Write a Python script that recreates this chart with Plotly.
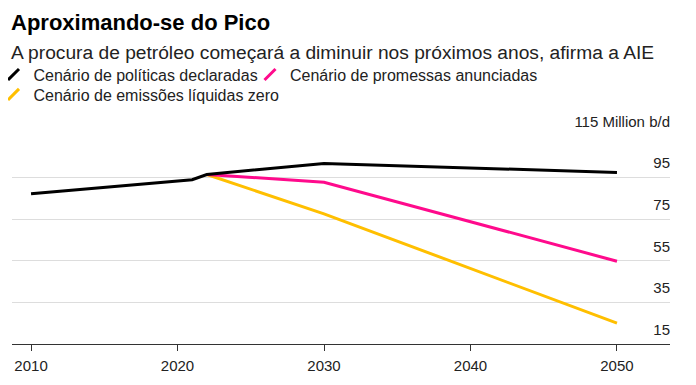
import plotly.graph_objects as go

# ---- data ----
years_hist = [2010, 2021, 2022]
demand_hist = [87.2, 94.0, 96.5]

years_proj = [2022, 2030, 2050]
steps = [96.5, 101.8, 97.5]      # Cenário de políticas declaradas
aps = [96.5, 92.8, 54.8]         # Cenário de promessas anunciadas
nze = [96.5, 77.6, 25.0]         # Cenário de emissões líquidas zero

series_names = ["Cenário de políticas declaradas",
                "Cenário de promessas anunciadas",
                "Cenário de emissões líquidas zero"]
series_colors = ["#000000", "#ff0a8c", "#ffbf00"]

y_tickvals = [15, 35, 55, 75, 95, 115]
y_ticktext = ["15", "35", "55", "75", "95", "115 Million b/d"]
x_tickvals = [2010, 2020, 2030, 2040, 2050]

FONT = "Liberation Sans, Arial, sans-serif"

fig = go.Figure()

# projection lines (drawn bottom-up so black on top)
for name, vals, col in [(series_names[2], nze, series_colors[2]),
                        (series_names[1], aps, series_colors[1])]:
    fig.add_trace(go.Scatter(x=years_proj, y=vals, mode="lines",
                             line=dict(color=col, width=3),
                             showlegend=False, hoverinfo="skip"))
fig.add_trace(go.Scatter(x=years_hist + years_proj[1:], y=demand_hist + steps[1:],
                         mode="lines", line=dict(color=series_colors[0], width=3),
                         showlegend=False, hoverinfo="skip"))

# legend entries with slash icons, one small legend each
legend_ids = ["legend", "legend2", "legend3"]
for name, col, lg in zip(series_names, series_colors, legend_ids):
    fig.add_trace(go.Scatter(x=[None], y=[None], mode="markers", name=name,
                             legend=lg,
                             marker=dict(symbol="line-ne", size=11,
                                         line=dict(color=col, width=3))))

PLOT_H = 336.3 - 127.7
PLOT_W = 662 - 4

legend_common = dict(orientation="h", xanchor="left", yanchor="top",
                     font=dict(size=16, color="#222"), itemwidth=30,
                     bgcolor="rgba(0,0,0,0)")

fig.update_layout(
    width=688, height=377,
    margin=dict(l=4, r=26, t=127.7, b=40.7, autoexpand=False),
    paper_bgcolor="white", plot_bgcolor="white",
    font=dict(family=FONT, color="#222"),
    showlegend=True,
    legend=dict(x=-18.5 / PLOT_W, y=1.377, **legend_common),
    legend2=dict(x=238 / PLOT_W, y=1.377, **legend_common),
    legend3=dict(x=-18.5 / PLOT_W, y=1.377 - 20 / PLOT_H, **legend_common),
    xaxis=dict(range=[2008.7, 2053.62], tickvals=x_tickvals,
               showgrid=False, zeroline=False, showline=True,
               linecolor="#333", linewidth=1, ticks="outside", ticklen=6,
               tickcolor="#333", tickfont=dict(size=15, color="#222"),
               ticklabelstandoff=2),
    yaxis=dict(range=[15, 115], tickvals=y_tickvals, ticktext=y_ticktext,
               side="right", ticklabelposition="inside top",
               ticklabeloverflow="allow", ticklabelshift=-4,
               ticklabelstandoff=-3,
               showgrid=True, gridcolor="#dddddd", gridwidth=1,
               zeroline=False, showline=False, ticks="",
               tickfont=dict(size=15, color="#222")),
    annotations=[
        dict(text="<b>Aproximando-se do Pico</b>", xref="paper", yref="paper",
             x=0, xshift=-3, y=1.544, xanchor="left", yanchor="middle",
             showarrow=False, font=dict(size=22, color="#000")),
        dict(text="A procura de petróleo começará a diminuir nos próximos anos, afirma a AIE",
             xref="paper", yref="paper", x=0, xshift=-3, y=1.4036,
             xanchor="left", yanchor="middle", showarrow=False,
             font=dict(size=19.2, color="#222")),
    ],
)

fig.write_html("out.html")
